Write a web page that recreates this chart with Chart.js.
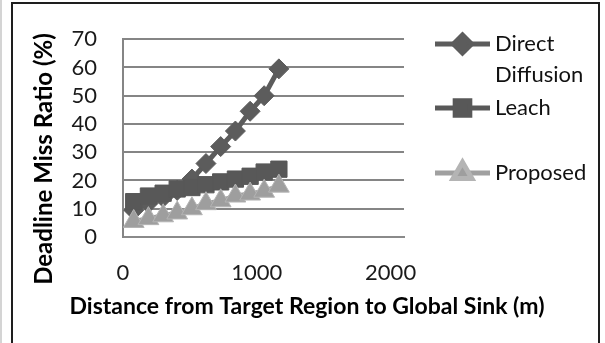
<!DOCTYPE html>
<html>
<head>
<meta charset="utf-8">
<title>Deadline Miss Ratio vs Distance</title>
<script src="https://cdn.jsdelivr.net/npm/chart.js@4/dist/chart.umd.min.js"></script>
<style>
  html, body { margin: 0; padding: 0; background: #fff; }
  body { width: 605px; height: 343px; position: relative; overflow: hidden; }
  #edge { position: absolute; left: 0; top: 0; width: 2px; height: 343px; background: #d4d4d4; }
  #frame { position: absolute; left: 11px; top: 2px; width: 585px; height: 360px; border: 2px solid #1e1e1e; }
  #wrap { position: absolute; left: 0; top: 0; width: 605px; height: 343px; }
</style>
</head>
<body>
<div id="edge"></div>
<div id="frame"></div>
<div id="wrap"><canvas id="c" width="605" height="343"></canvas></div>
<script>
// Distance from target region to global sink (m)
const distances = [80, 190, 300, 405, 515, 620, 730, 840, 950, 1055, 1165];
// Deadline miss ratio (%) per protocol
const directDiffusion = [9.5, 12, 14, 16.5, 20.5, 26, 32, 37.5, 44.5, 50, 59.5];
const leach = [12.5, 14.5, 15.5, 17, 17.5, 18.5, 19.5, 20.5, 21.5, 23, 24];
const proposed = [5.5, 6.5, 7.5, 8.5, 10, 11.8, 12.8, 14.5, 15.2, 16.2, 18];
const xTicks = [0, 1000, 2000];
const seriesNames = [['Direct', 'Diffusion'], ['Leach'], ['Proposed']];

const FONT = 'Lato, "Open Sans", sans-serif';
const pts = (ys) => distances.map((x, i) => ({ x, y: ys[i] }));

// Legend with a line sample and marker per series, labels may wrap onto two lines
const sideLegend = {
  id: 'sideLegend',
  afterDraw(chart, args, opts) {
    const ctx = chart.ctx;
    chart.data.datasets.forEach((ds, i) => {
      const y = opts.rows[i];
      ctx.save();
      ctx.strokeStyle = ds.borderColor;
      ctx.lineWidth = ds.borderWidth;
      ctx.beginPath();
      ctx.moveTo(opts.lineStart, y);
      ctx.lineTo(opts.lineEnd, y);
      ctx.stroke();
      ctx.fillStyle = ds.pointBackgroundColor;
      ctx.strokeStyle = ds.pointBorderColor;
      Chart.helpers.drawPoint(ctx, {
        pointStyle: ds.pointStyle,
        radius: ds.pointRadius * opts.markerScale,
        rotation: 0,
        borderWidth: ds.pointBorderWidth
      }, (opts.lineStart + opts.lineEnd) / 2, y);
      ctx.fillStyle = '#111';
      ctx.font = opts.font;
      ctx.textAlign = 'left';
      ctx.textBaseline = 'middle';
      seriesNames[i].forEach((t, k) => ctx.fillText(t, opts.textX, y + k * opts.lineGap));
      ctx.restore();
    });
  }
};

// Axis titles centred on the plot block
const axisTitles = {
  id: 'axisTitles',
  afterDraw(chart, args, opts) {
    const ctx = chart.ctx;
    ctx.save();
    ctx.fillStyle = '#000';
    ctx.textAlign = 'center';
    ctx.textBaseline = 'middle';
    ctx.font = opts.x.font;
    ctx.fillText(opts.x.text, opts.x.cx, opts.x.cy);
    ctx.font = opts.y.font;
    ctx.translate(opts.y.cx, opts.y.cy);
    ctx.rotate(-Math.PI / 2);
    ctx.fillText(opts.y.text, 0, 0);
    ctx.restore();
  }
};

new Chart(document.getElementById('c'), {
  type: 'line',
  data: {
    datasets: [
      {
        label: 'Direct Diffusion',
        data: pts(directDiffusion),
        borderColor: '#5c5c5c',
        borderWidth: 5,
        pointStyle: 'rectRot',
        pointRadius: 10,
        pointBackgroundColor: '#5c5c5c',
        pointBorderColor: '#5c5c5c',
        pointBorderWidth: 1,
        order: 3
      },
      {
        label: 'Leach',
        data: pts(leach),
        borderColor: '#585858',
        borderWidth: 5,
        pointStyle: 'rect',
        pointRadius: 11.5,
        pointBackgroundColor: '#585858',
        pointBorderColor: '#585858',
        pointBorderWidth: 1,
        order: 2
      },
      {
        label: 'Proposed',
        data: pts(proposed),
        borderColor: '#a0a0a0',
        borderWidth: 5,
        pointStyle: 'triangle',
        pointRadius: 12,
        pointBackgroundColor: '#9e9e9e',
        pointBorderColor: '#b4b4b4',
        pointBorderWidth: 1,
        order: 1
      }
    ]
  },
  options: {
    responsive: false,
    animation: false,
    devicePixelRatio: 1,
    layout: { padding: { left: 0, right: 201, top: 32, bottom: 0 } },
    elements: { line: { tension: 0 } },
    plugins: {
      legend: { display: false },
      tooltip: { enabled: false },
      sideLegend: {
        rows: [44, 108, 173],
        lineStart: 435,
        lineEnd: 490,
        textX: 495,
        lineGap: 31,
        markerScale: 0.9,
        font: '22px ' + FONT
      },
      axisTitles: {
        x: { text: 'Distance from Target Region to Global Sink (m)', cx: 307, cy: 307, font: 'bold 23px ' + FONT },
        y: { text: 'Deadline Miss Ratio (%)', cx: 44, cy: 159, font: 'bold 24px ' + FONT }
      }
    },
    scales: {
      x: {
        type: 'linear',
        min: 0,
        max: 2100,
        afterBuildTicks: (s) => { s.ticks = xTicks.map(v => ({ value: v })); },
        afterFit: (s) => { s.height = 106; },
        grid: { display: false, drawTicks: false },
        border: { display: true, color: '#8a8a8a', width: 2 },
        ticks: {
          color: '#1a1a1a',
          font: { family: FONT, size: 22 },
          padding: 23,
          maxRotation: 0,
          autoSkip: false,
          callback: (v) => String(v)
        }
      },
      y: {
        min: 0,
        max: 70,
        afterFit: (s) => { s.width = 123; },
        grid: { color: '#858585', lineWidth: 2, drawTicks: false },
        border: { display: true, color: '#858585', width: 2 },
        ticks: {
          stepSize: 10,
          autoSkip: false,
          color: '#1a1a1a',
          font: { family: FONT, size: 22 },
          padding: 26
        }
      }
    }
  },
  plugins: [sideLegend, axisTitles]
});
</script>
</body>
</html>
